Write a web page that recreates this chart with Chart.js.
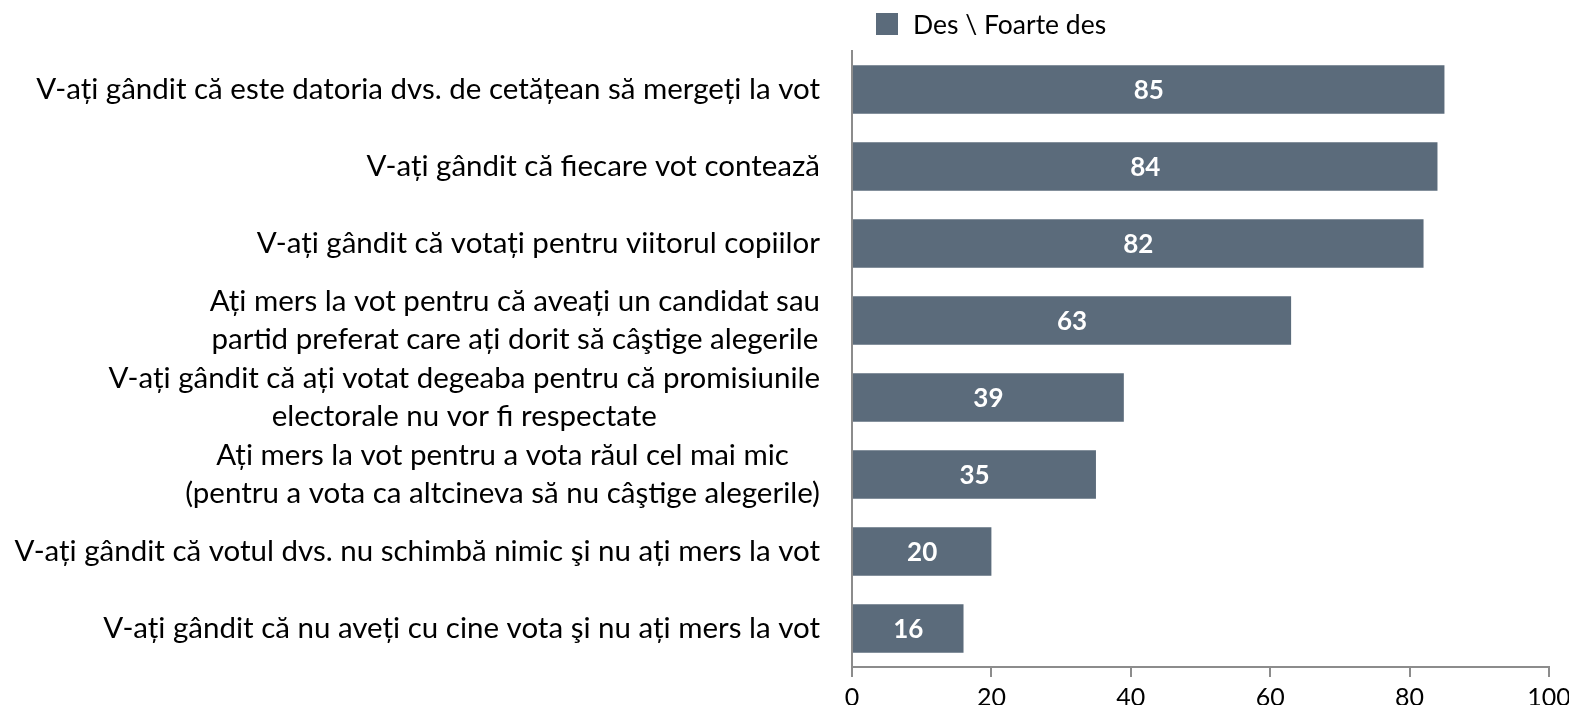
<!DOCTYPE html>
<html>
<head>
<meta charset="utf-8">
<script src="https://cdn.jsdelivr.net/npm/chart.js@4.4.1/dist/chart.umd.min.js"></script>
<style>
  html, body { margin: 0; padding: 0; background: #fff; }
  #wrap { position: relative; width: 1569px; height: 705px; overflow: hidden; }
  #legend { position: absolute; left: 876px; top: 8px; font-family: Lato, sans-serif; font-size: 26.5px; color: #000; display: flex; align-items: center; }
  #legend span.box { display: inline-block; width: 22px; height: 22px; background: #5b6b7b; margin-right: 15px; }
</style>
</head>
<body>
<div id="wrap">
  <canvas id="barChart" width="1569" height="705"></canvas>
  <div id="legend"><span class="box"></span><span id="legendText"></span></div>
</div>
<script>
// DATA
const questions = [
    "V-ați gândit că este datoria dvs. de cetățean să mergeți la vot",
    "V-ați gândit că fiecare vot contează",
    "V-ați gândit că votați pentru viitorul copiilor",
    ["Ați mers la vot pentru că aveați un candidat sau", "partid preferat care ați dorit să câştige alegerile"],
    ["V-ați gândit că ați votat degeaba pentru că promisiunile", "electorale nu vor fi respectate"],
    ["Ați mers la vot pentru a vota răul cel mai mic", "(pentru a vota ca altcineva să nu câştige alegerile)"],
    "V-ați gândit că votul dvs. nu schimbă nimic şi nu ați mers la vot",
    "V-ați gândit că nu aveți cu cine vota şi nu ați mers la vot"
];
const seriesName = "Des \\ Foarte des";
const seriesValues = [85, 84, 82, 63, 39, 35, 20, 16];
const xTicks = [0, 20, 40, 60, 80, 100];

const barColor = '#5b6b7b';
const fontFamily = 'Lato, sans-serif';

document.getElementById('legendText').textContent = seriesName;

// draws the category labels right-aligned as a block, lines centred in the block
const catLabels = {
    id: 'catLabels',
    afterDraw(chart) {
        const ctx = chart.ctx;
        const yScale = chart.scales.y;
        const right = chart.chartArea.left - 32;
        const lineH = 38;
        ctx.save();
        ctx.font = '29.5px ' + fontFamily;
        ctx.fillStyle = '#000';
        ctx.textAlign = 'center';
        ctx.textBaseline = 'middle';
        questions.forEach((lbl, i) => {
            const lines = Array.isArray(lbl) ? lbl : [lbl];
            const w = Math.max(...lines.map(l => ctx.measureText(l).width));
            const cx = right - w / 2;
            const cy = yScale.getPixelForTick(i);
            lines.forEach((l, j) => {
                ctx.fillText(l, cx, cy + (j - (lines.length - 1) / 2) * lineH);
            });
        });
        ctx.restore();
    }
};

// value labels inside bars
const valueLabels = {
    id: 'valueLabels',
    afterDatasetsDraw(chart) {
        const ctx = chart.ctx;
        const meta = chart.getDatasetMeta(0);
        ctx.save();
        ctx.font = 'bold 26px ' + fontFamily;
        ctx.fillStyle = '#fff';
        ctx.textAlign = 'center';
        ctx.textBaseline = 'middle';
        meta.data.forEach((bar, i) => {
            ctx.fillText(seriesValues[i], (bar.x + bar.base) / 2, bar.y + 1);
        });
        ctx.restore();
    }
};

const barCtx = document.getElementById('barChart').getContext('2d');
const barChart = new Chart(barCtx, {
    type: 'bar',
    data: {
        labels: questions,
        datasets: [{
            label: seriesName,
            data: seriesValues,
            backgroundColor: barColor,
            barPercentage: 0.63,
            categoryPercentage: 1
        }]
    },
    options: {
        indexAxis: 'y',
        responsive: false,
        animation: false,
        layout: { padding: { top: 51, right: 20, left: 0, bottom: 0 } },
        plugins: {
            legend: { display: false },
            tooltip: { enabled: false }
        },
        scales: {
            x: {
                min: 0,
                max: 100,
                afterBuildTicks: (scale) => { scale.ticks = xTicks.map(v => ({ value: v })); },
                afterFit: (scale) => { scale.height = 38; scale.paddingRight = 0; },
                border: { color: '#8c8c8c', width: 2 },
                grid: { drawOnChartArea: false, tickLength: 10, color: '#8c8c8c', lineWidth: 2 },
                ticks: { color: '#000', padding: 6, font: { family: fontFamily, size: 25 } }
            },
            y: {
                afterFit: (scale) => { scale.width = 852; },
                border: { color: '#8c8c8c', width: 2 },
                grid: { display: false },
                ticks: { display: false }
            }
        }
    },
    plugins: [catLabels, valueLabels]
});
</script>
</body>
</html>
